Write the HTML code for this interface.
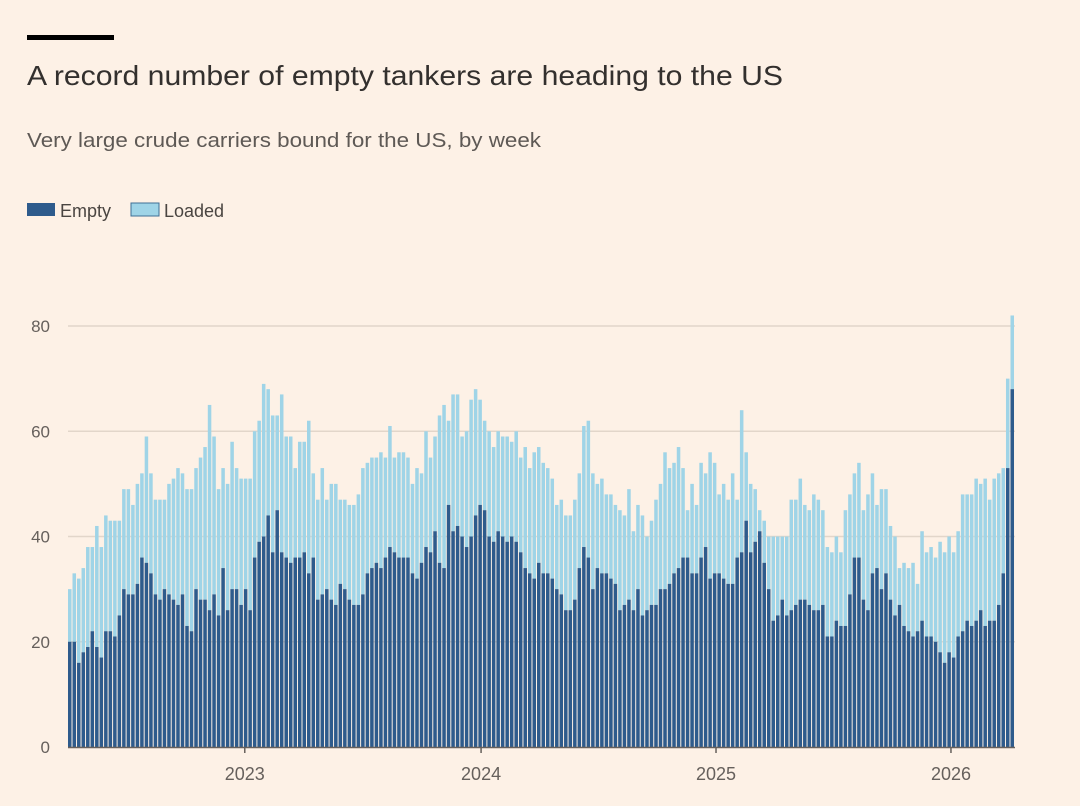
<!DOCTYPE html>
<html><head><meta charset="utf-8"><style>
html,body{margin:0;padding:0;background:#fdf1e6;}
svg{display:block;font-family:"Liberation Sans",sans-serif;}
</style></head><body>
<svg id="chart" width="1080" height="806" viewBox="0 0 1080 806">
<rect x="0" y="0" width="1080" height="806" fill="#fdf1e6"/>
<rect x="27" y="35" width="87" height="5" fill="#000"/>
<text x="27" y="85" font-size="28" fill="#33302e" textLength="756" lengthAdjust="spacingAndGlyphs">A record number of empty tankers are heading to the US</text>
<text x="27" y="147" font-size="20" fill="#5e5955" textLength="514" lengthAdjust="spacingAndGlyphs">Very large crude carriers bound for the US, by week</text>
<g>
<g><rect x="27" y="203" width="28" height="13" fill="#2e5b8c"/><text x="60" y="217" font-size="18" fill="#4a4541">Empty</text></g>
<g><rect x="131" y="203" width="28" height="13" fill="#9fd4e7" stroke="#3f6f95" stroke-width="1"/><text x="164" y="217" font-size="18" fill="#4a4541">Loaded</text></g>
</g>
<g id="grid"></g>
<g id="ylabels"></g>
<g id="bars"></g>
<g id="xaxis"></g>
</svg>
<script>
const yTicks = [0, 20, 40, 60, 80];
const yearLabels = ["2023", "2024", "2025", "2026"];
const yearIndex = [39.2, 91.6, 143.7, 195.8];
const totals = [30,33,32,34,38,38,42,38,44,43,43,43,49,49,46,50,52,59,52,47,47,47,50,51,53,52,49,49,53,55,57,65,59,49,53,50,58,53,51,51,51,60,62,69,68,63,63,67,59,59,53,58,58,62,52,47,53,47,50,50,47,47,46,46,48,53,54,55,55,56,55,61,55,56,56,55,50,53,52,60,55,59,63,65,62,67,67,59,60,66,68,66,62,60,57,60,59,59,58,60,55,57,53,56,57,54,53,51,46,47,44,44,47,52,61,62,52,50,51,48,48,46,45,44,49,41,46,44,40,43,47,50,56,53,54,57,53,45,50,46,54,52,56,54,48,50,47,52,47,64,56,50,49,45,43,40,40,40,40,40,47,47,51,46,45,48,47,45,38,37,40,37,45,48,52,54,45,48,52,46,49,49,42,40,34,35,34,35,31,41,37,38,36,39,37,40,37,41,48,48,48,51,50,51,47,51,52,53,70,82];
const empty = [20,20,16,18,19,22,19,17,22,22,21,25,30,29,29,31,36,35,33,29,28,30,29,28,27,29,23,22,30,28,28,26,29,25,34,26,30,30,27,30,26,36,39,40,44,37,45,37,36,35,36,36,37,33,36,28,29,30,28,27,31,30,28,27,27,29,33,34,35,34,36,38,37,36,36,36,33,32,35,38,37,41,35,34,46,41,42,40,38,40,44,46,45,40,39,41,40,39,40,39,37,34,33,32,35,33,33,32,30,29,26,26,28,34,38,36,30,34,33,33,32,31,26,27,28,26,30,25,26,27,27,30,30,31,33,34,36,36,33,33,36,38,32,33,33,32,31,31,36,37,43,37,39,41,35,30,24,25,28,25,26,27,28,28,27,26,26,27,21,21,24,23,23,29,36,36,28,26,33,34,30,33,28,25,27,23,22,21,22,24,21,21,20,18,16,18,17,21,22,24,23,24,26,23,24,24,27,33,53,68];
const NS = "http://www.w3.org/2000/svg";
const x0 = 68, x1 = 1015, yBase = 747, yTop = 326;
const n = totals.length;
const step = (x1 - x0) / n;
function xScale(i) { return x0 + i * step; }
function yScale(v) { return yBase - (v / 80) * (yBase - yTop); }
function mk(tag, attrs) { const e = document.createElementNS(NS, tag); for (const k in attrs) e.setAttribute(k, attrs[k]); return e; }
const grid = document.getElementById('grid'), yl = document.getElementById('ylabels');
yTicks.forEach(t => {
  if (t > 0) {
    const l = mk('line', {x1: 68, x2: 1015, y1: yScale(t), y2: yScale(t), stroke: '#e2d6ca', 'stroke-width': 1.5});
    
    
    grid.appendChild(l);
  }
  const tx = mk('text', {x: 50, y: yScale(t) + 6, 'font-size': 17, fill: '#66605c', 'text-anchor': 'end'});
  tx.textContent = t;
  
  
  yl.appendChild(tx);
});
const bars = document.getElementById('bars');
const bw = step * 0.78;
for (let i = 0; i < n; i++) {
  const x = xScale(i);
  const lo = mk('rect', {x: x, y: yScale(totals[i]), width: bw, height: yScale(empty[i]) - yScale(totals[i]), fill: '#9fd4e7'});
  
  
  bars.appendChild(lo);
  const em = mk('rect', {x: x, y: yScale(empty[i]), width: bw, height: yBase - yScale(empty[i]), fill: '#2e5b8c'});
  
  
  bars.appendChild(em);
}
const xa = document.getElementById('xaxis');
const al = mk('line', {x1: 68, x2: 1015, y1: yBase + 0.5, y2: yBase + 0.5, stroke: '#66605c', 'stroke-width': 1.5});


xa.appendChild(al);
yearLabels.forEach((lab, k) => {
  const x = xScale(yearIndex[k]);
  const tk = mk('line', {x1: x, x2: x, y1: yBase, y2: yBase + 6, stroke: '#66605c', 'stroke-width': 1.5});
  
  
  xa.appendChild(tk);
  const tx = mk('text', {x: x, y: 780, 'font-size': 18, fill: '#66605c', 'text-anchor': 'middle'});
  tx.textContent = lab;
  
  
  xa.appendChild(tx);
});
</script>
</body></html>
